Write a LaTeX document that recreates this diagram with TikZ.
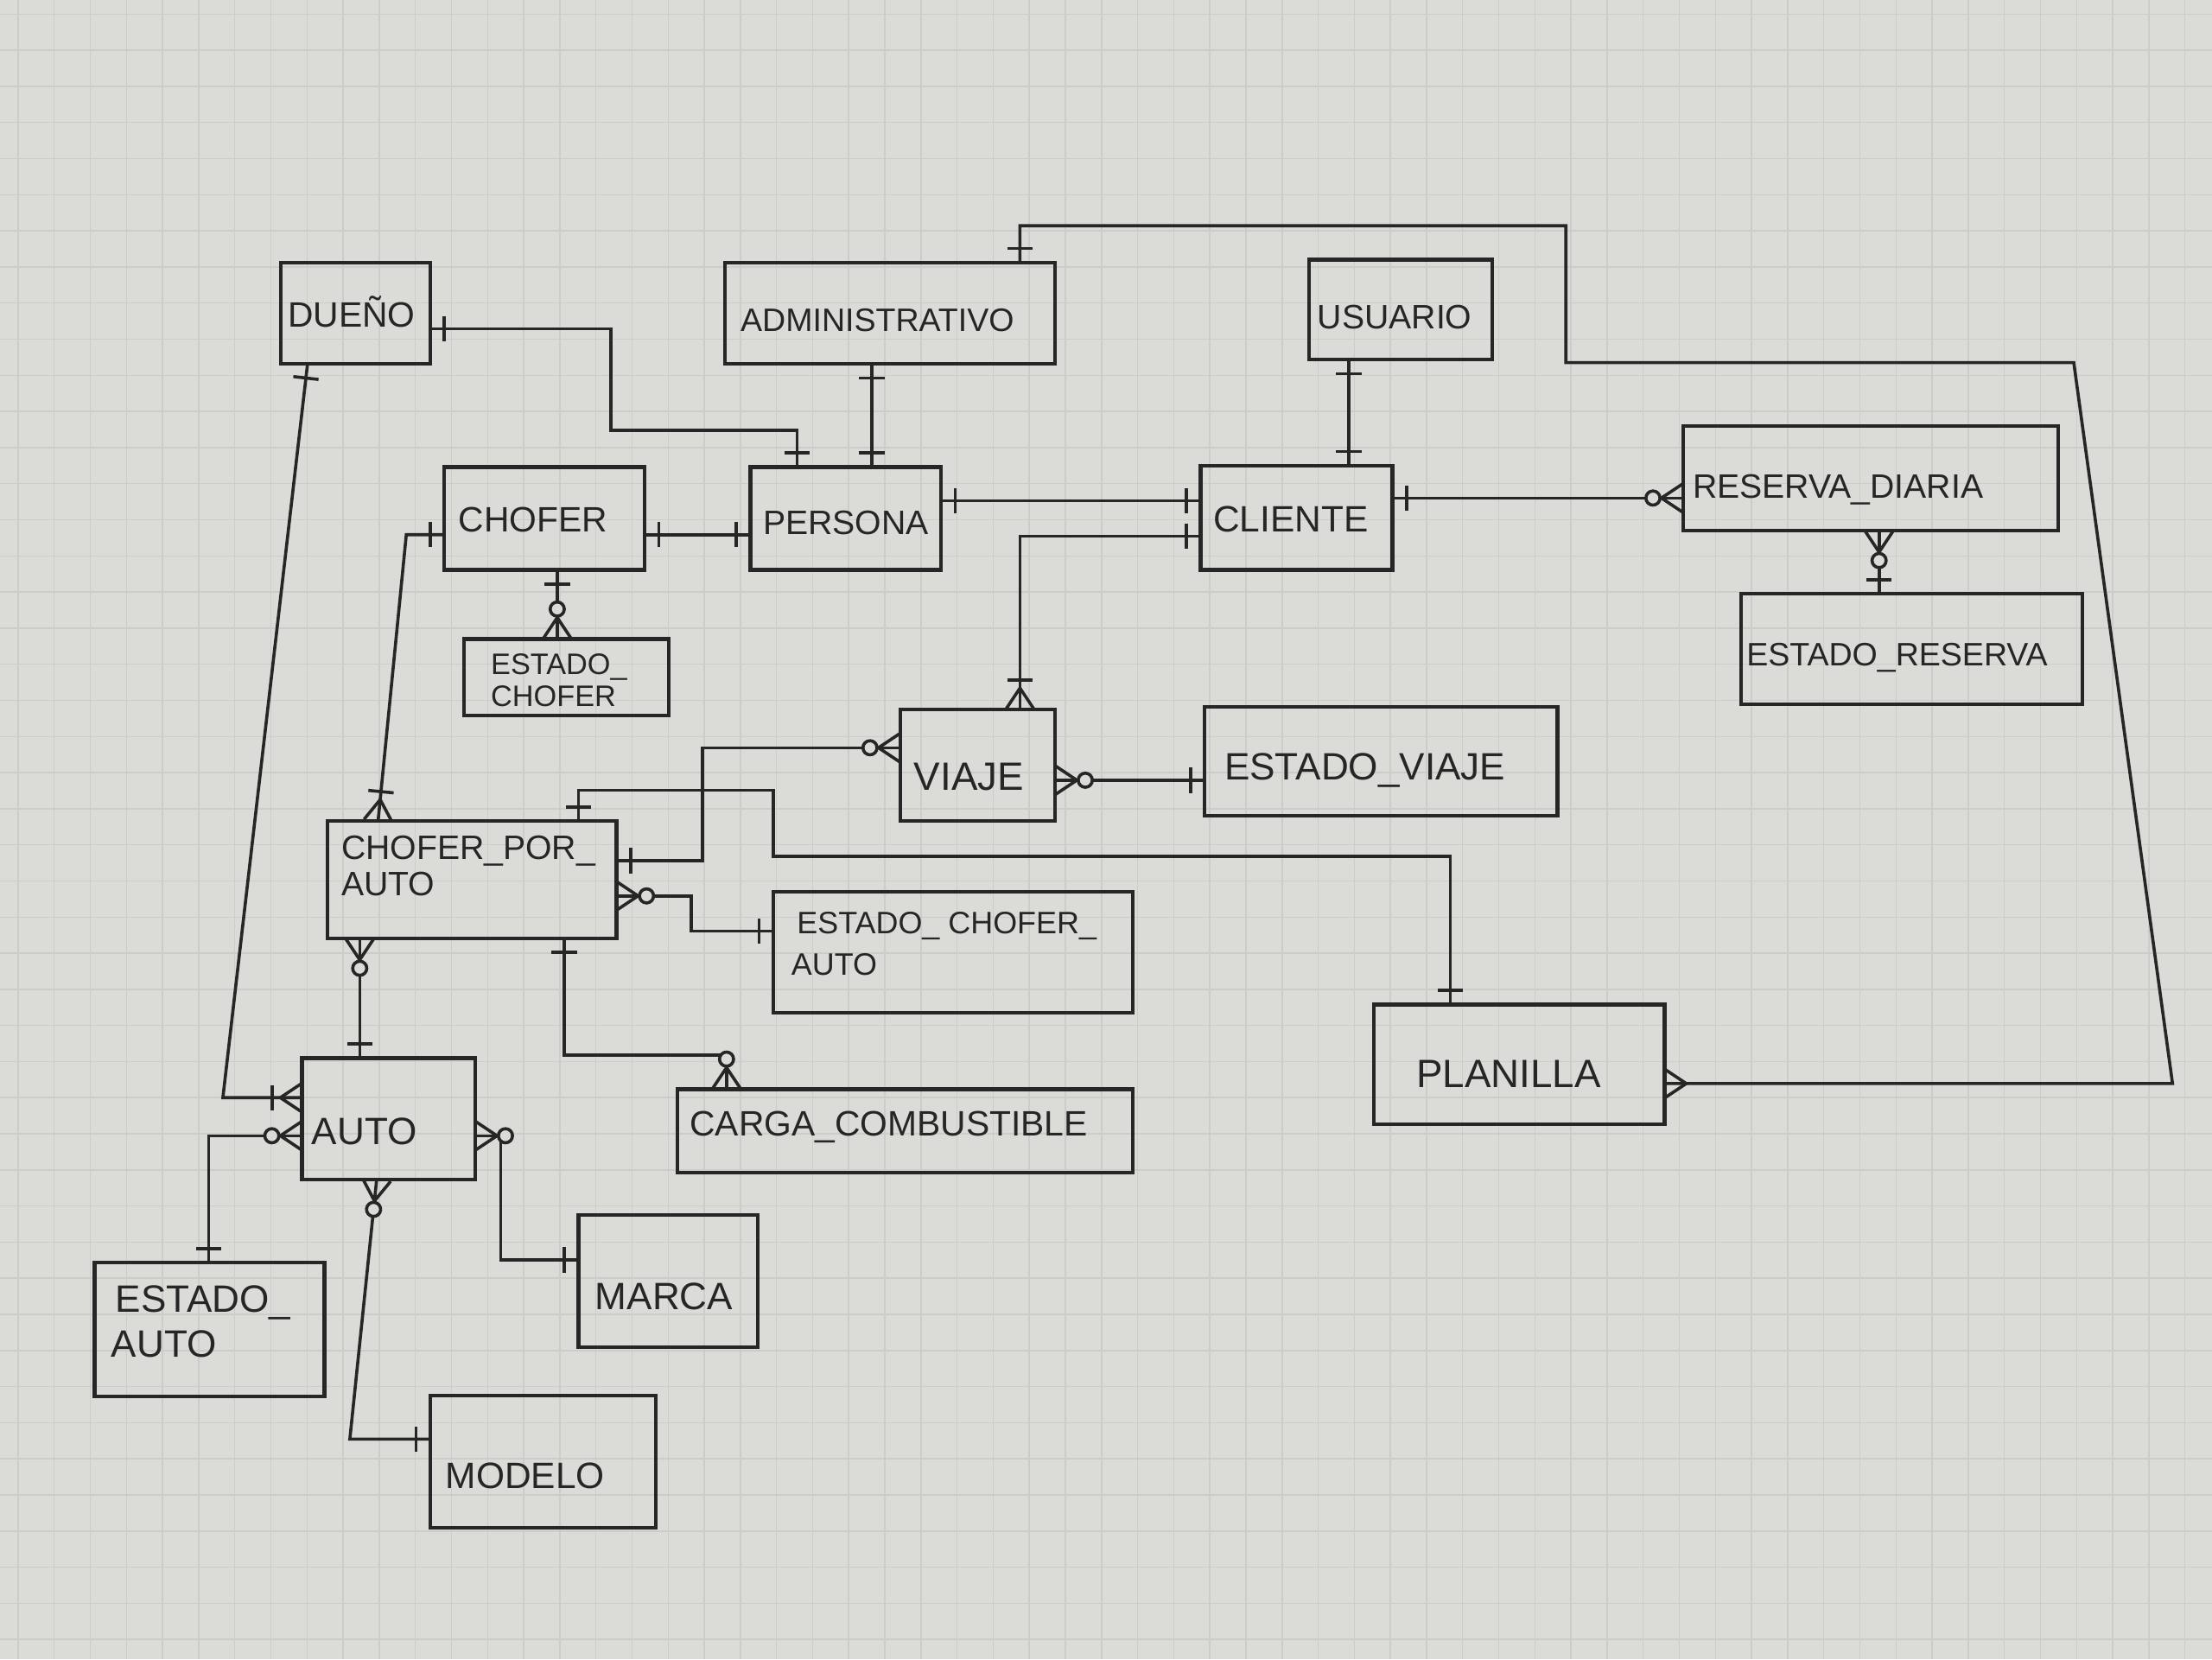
\documentclass[tikz,border=0pt]{standalone}
\usepackage{fontspec}
\setmainfont{Liberation Sans}
\usetikzlibrary{calc,decorations.markings}
\definecolor{paper}{RGB}{219,219,216}
\definecolor{gridc}{RGB}{204,204,201}
\definecolor{ink}{RGB}{38,38,38}
\tikzset{
  ent/.style={draw=ink, line width=2.6pt, inner sep=0pt, outer sep=0pt, anchor=north west},
  lbl/.style={anchor=base west, inner sep=0pt, outer sep=0pt, text=ink},
  tsz/.style={font=\fontsize{#1}{#1}\selectfont},
  rel/.style={draw=ink, line width=2.2pt, line join=miter},
  mk/.style={draw=ink, line width=2.2pt},
  gridline/.style={draw=gridc, line width=0.9pt},
  oneS/.style={postaction={decorate, decoration={markings, mark=at position 10pt with {\draw[mk] (0pt,-9pt) -- (0pt,9pt);}}}},
  oneE/.style={postaction={decorate, decoration={markings, mark=at position -10pt with {\draw[mk] (0pt,-9pt) -- (0pt,9pt);}}}},
  manyE/.style={postaction={decorate, decoration={markings, mark=at position -0.3pt with {\draw[mk] (-15pt,0pt) -- (0pt,10pt) (-15pt,0pt) -- (0pt,-10pt);}}}},
  omanyE/.style={manyE, postaction={decorate, decoration={markings, mark=at position -21pt with {\draw[mk] (0pt,-9pt) -- (0pt,9pt);}}}},
  zmanyE/.style={manyE, postaction={decorate, decoration={markings, mark=at position -0.3pt with {\draw[mk, fill=paper] (-21pt,0pt) circle[radius=5pt];}}}},
  manyS/.style={postaction={decorate, decoration={markings, mark=at position 0.3pt with {\draw[mk] (15pt,0pt) -- (0pt,10pt) (15pt,0pt) -- (0pt,-10pt);}}}},
  zmanyS/.style={manyS, postaction={decorate, decoration={markings, mark=at position 0.3pt with {\draw[mk, fill=paper] (21pt,0pt) circle[radius=5pt];}}}},
}
\begin{document}
\begin{tikzpicture}[x=1pt, y=-1pt]
\useasboundingbox (0,0) rectangle (1568,1176);
\fill[paper] (0,0) rectangle (1568,1176);
\foreach \gx in {12.8,38.4,...,1568} \draw[gridline] (\gx,0) -- (\gx,1176);
\foreach \gy in {10,35.6,...,1176} \draw[gridline] (0,\gy) -- (1568,\gy);

% entities
\node[ent, minimum width=106pt, minimum height=72pt] (dueno) at (199,186) {};
\node[ent, minimum width=234pt, minimum height=72pt] (admin) at (514,186) {};
\node[ent, minimum width=130pt, minimum height=71pt] (usuario) at (928,184) {};
\node[ent, minimum width=142pt, minimum height=73pt] (chofer) at (315,331) {};
\node[ent, minimum width=135pt, minimum height=73pt] (persona) at (532,331) {};
\node[ent, minimum width=136pt, minimum height=74pt] (cliente) at (851,330) {};
\node[ent, minimum width=266pt, minimum height=74pt] (reserva) at (1193,302) {};
\node[ent, minimum width=145pt, minimum height=54pt] (estchofer) at (329,453) {};
\node[ent, minimum width=242pt, minimum height=78pt] (estreserva) at (1234,421) {};
\node[ent, minimum width=110pt, minimum height=79pt] (viaje) at (638,503) {};
\node[ent, minimum width=250pt, minimum height=77pt] (estviaje) at (854,501) {};
\node[ent, minimum width=205pt, minimum height=83pt] (cpa) at (232,582) {};
\node[ent, minimum width=255pt, minimum height=86pt] (estca) at (548,632) {};
\node[ent, minimum width=206pt, minimum height=85pt] (planilla) at (974,712) {};
\node[ent, minimum width=123pt, minimum height=86pt] (auto) at (214,750) {};
\node[ent, minimum width=323pt, minimum height=59pt] (carga) at (480,772) {};
\node[ent, minimum width=163pt, minimum height=95pt] (estauto) at (67,895) {};
\node[ent, minimum width=127pt, minimum height=94pt] (marca) at (410,861) {};
\node[ent, minimum width=160pt, minimum height=94pt] (modelo) at (305,989) {};

% labels
\node[lbl, tsz=25] (tdueno) at (204,232) {DUEÑO};
\node[lbl, tsz=23] (tadmin) at (525,235) {ADMINISTRATIVO};
\node[lbl, tsz=24] (tusuario) at (934,233) {USUARIO};
\node[lbl, tsz=25] (tchofer) at (325,377) {CHOFER};
\node[lbl, tsz=24] (tpersona) at (541,379) {PERSONA};
\node[lbl, tsz=26] (tcliente) at (860,377) {CLIENTE};
\node[lbl, tsz=24] (treserva) at (1200,353) {RESERVA\_DIARIA};
\node[lbl, tsz=21] (testchofer1) at (348,478) {ESTADO\_};
\node[lbl, tsz=21] (testchofer2) at (348,501) {CHOFER};
\node[lbl, tsz=23] (testreserva) at (1238,472) {ESTADO\_RESERVA};
\node[lbl, tsz=28] (tviaje) at (648,560) {VIAJE};
\node[lbl, tsz=27] (testviaje) at (868,553) {ESTADO\_VIAJE};
\node[lbl, tsz=24] (tcpa1) at (242,609) {CHOFER\_POR\_};
\node[lbl, tsz=24] (tcpa2) at (242,635) {AUTO};
\node[lbl, tsz=22] (testca1) at (565,662) {ESTADO\_ CHOFER\_};
\node[lbl, tsz=22] (testca2) at (561,691) {AUTO};
\node[lbl, tsz=28] (tplanilla) at (1004,771) {PLANILLA};
\node[lbl, tsz=27] (tauto) at (221,811) {AUTO};
\node[lbl, tsz=25] (tcarga) at (489,805) {CARGA\_COMBUSTIBLE};
\node[lbl, tsz=27] (testauto1) at (82,930) {ESTADO\_};
\node[lbl, tsz=27] (testauto2) at (79,962) {AUTO};
\node[lbl, tsz=27] (tmarca) at (422,928) {MARCA};
\node[lbl, tsz=26] (tmodelo) at (316,1055) {MODELO};

% relationships
\draw[rel, oneS, oneE] ($(dueno.east)+(0,11)$) -| (433,305) -| ($(persona.north west)+(33,0)$);
\draw[rel, oneS, oneE] ($(admin.south west)+(104,0)$) -- ($(persona.north west)+(86,0)$);
\draw[rel, oneS, oneE] ($(usuario.south west)+(28,0)$) -- ($(cliente.north west)+(105,0)$);
\draw[rel, oneS, oneE] ($(chofer.east)+(0,11.5)$) -- ($(persona.west)+(0,11.5)$);
\draw[rel, oneS, oneE] ($(persona.east)+(0,-12.5)$) -- ($(cliente.west)+(0,-12)$);
\draw[rel, oneS, zmanyE] ($(cliente.east)+(0,-14)$) -- ($(reserva.west)+(0,14)$);
\draw[rel, zmanyS, oneE] ($(reserva.south west)+(139,0)$) -- ($(estreserva.north west)+(98,0)$);
\draw[rel, oneS, zmanyE] ($(chofer.south west)+(80,0)$) -- ($(estchofer.north west)+(66,0)$);
\draw[rel, oneS, omanyE] ($(cliente.west)+(0,13)$) -| ($(viaje.north west)+(85,0)$);
\draw[rel, zmanyS, oneE] ($(viaje.east)+(0,10.5)$) -- ($(estviaje.west)+(0,13.5)$);
\draw[rel, oneS, omanyE] ($(chofer.west)+(0,11.5)$) -- (288,379) -- ($(cpa.north west)+(36,0)$);
\draw[rel, zmanyS, oneE] ($(viaje.west)+(0,-12.5)$) -| (498,610) -- ($(cpa.east)+(0,-13.5)$);
\draw[rel, oneS, oneE] ($(cpa.north west)+(178,0)$) |- (548,560) |- (1028,607) -- ($(planilla.north west)+(54,0)$);
\draw[rel, zmanyS, oneE] ($(cpa.east)+(0,11.5)$) -| (490,660) -- ($(estca.west)+(0,-15)$);
\draw[rel, oneS, zmanyE] ($(cpa.south west)+(168,0)$) |- (515,748) -- ($(carga.north west)+(35,0)$);
\draw[rel, zmanyS, oneE] ($(cpa.south west)+(23,0)$) -- ($(auto.north west)+(41,0)$);
\draw[rel, oneS, omanyE] ($(dueno.south west)+(19,0)$) -- (158,778) -- ($(auto.west)+(0,-15)$);
\draw[rel, zmanyS, oneE] ($(auto.west)+(0,12)$) -| ($(estauto.north west)+(81,0)$);
\draw[rel, zmanyS, oneE] ($(auto.east)+(0,12)$) -| (355,893) -- ($(marca.west)+(0,-15)$);
\draw[rel, zmanyS, oneE] ($(auto.south west)+(53,0)$) -- (248,1020) -- ($(modelo.west)+(0,-16)$);
\draw[rel, oneS, manyE] ($(admin.north west)+(209,0)$) |- (1110,160) |- (1470,257) -- (1540,768) -- ($(planilla.east)+(0,13.5)$);
\end{tikzpicture}
\end{document}
